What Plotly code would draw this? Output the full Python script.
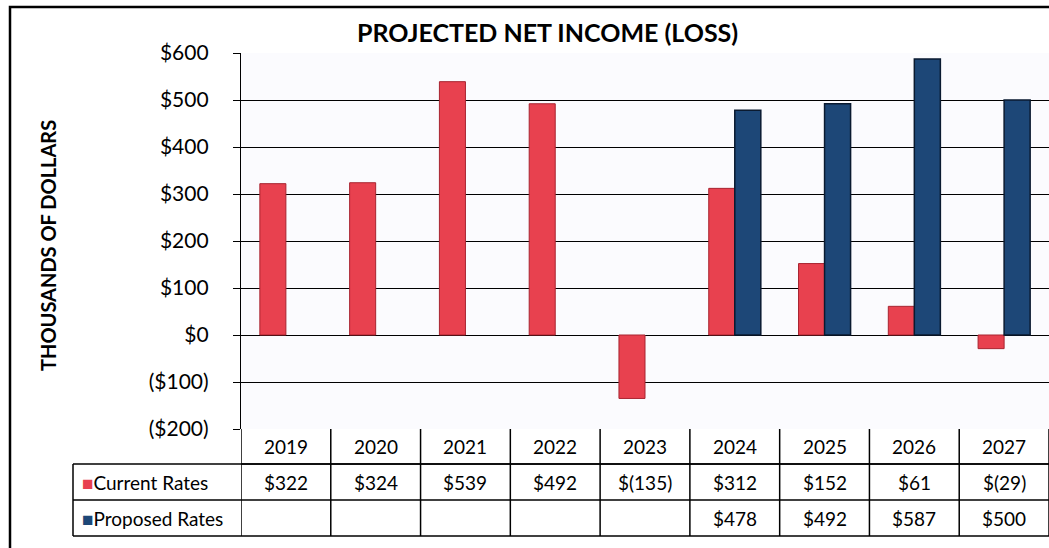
import plotly.graph_objects as go

years = ["2019", "2020", "2021", "2022", "2023", "2024", "2025", "2026", "2027"]
current_rates = [322, 324, 539, 492, -135, 312, 152, 61, -29]
proposed_rates = [None, None, None, None, None, 478, 492, 587, 500]
tick_vals = [600, 500, 400, 300, 200, 100, 0, -100, -200]
tick_text = ["$600", "$500", "$400", "$300", "$200", "$100", "$0", "($100)", "($200)"]

RED = "#e8414f"
BLUE = "#1d4777"
FONT = "Lato"


def fmt(v):
    if v is None:
        return ""
    return f"${v}" if v >= 0 else f"$({-v})"


fig = go.Figure()
fig.add_trace(go.Bar(x=years, y=current_rates, name="Current Rates",
                     marker=dict(color=RED, line=dict(color="#a82430", width=1))))
fig.add_trace(go.Bar(x=years, y=proposed_rates, name="Proposed Rates",
                     marker=dict(color=BLUE, line=dict(color="#0a1a30", width=1.5))))

W, H = 1049, 548
L, R, T, B = 241, 0, 53, 119
ph = H - T - B
pw = W - L - R


def py(px):
    return (H - B - px) / ph


def pxx(px):
    return (px - L) / pw


shapes = []
annotations = []
r1, r2, r3, r4 = 429, 464, 500, 536
LW = 1.5
shapes.append(dict(type="line", xref="paper", yref="paper", x0=0, x1=1, y0=py(r2), y1=py(r2),
                   line=dict(color="black", width=LW)))
for yy in (r2, r3, r4):
    shapes.append(dict(type="line", xref="paper", yref="paper", x0=pxx(73), x1=1, y0=py(yy), y1=py(yy),
                       line=dict(color="black", width=LW)))
for i in range(len(years) + 1):
    xv = i - 0.5
    shapes.append(dict(type="line", xref="x", yref="paper", x0=xv, x1=xv, y0=py(r1), y1=py(r4),
                       line=dict(color="black", width=LW)))
shapes.append(dict(type="line", xref="paper", yref="paper", x0=pxx(73), x1=pxx(73), y0=py(r2), y1=py(r4),
                   line=dict(color="black", width=LW)))
shapes.append(dict(type="rect", xref="paper", yref="paper", x0=pxx(10), x1=pxx(1070), y0=py(7), y1=py(570),
                   line=dict(color="black", width=2.5)))

tfont = dict(family=FONT, size=19, color="black")
for i, yv in enumerate(years):
    for yc, txt in (((r1 + r2) / 2, yv), ((r2 + r3) / 2, fmt(current_rates[i])),
                    ((r3 + r4) / 2, fmt(proposed_rates[i]))):
        annotations.append(dict(x=i, y=py(yc), xref="x", yref="paper", text=txt, xanchor="center",
                                yanchor="middle", showarrow=False, font=tfont))

annotations.append(dict(x=pxx(80), y=py((r2 + r3) / 2), xref="paper", yref="paper", xanchor="left",
                        yanchor="middle",
                        text=f"<span style='color:{RED}'>■</span>Current Rates", showarrow=False, font=tfont))
annotations.append(dict(x=pxx(80), y=py((r3 + r4) / 2), xref="paper", yref="paper", xanchor="left",
                        yanchor="middle",
                        text=f"<span style='color:{BLUE}'>■</span>Proposed Rates", showarrow=False, font=tfont))
annotations.append(dict(x=pxx(48), y=py(246), xref="paper", yref="paper", text="<b>THOUSANDS OF DOLLARS</b>",
                        xanchor="center", yanchor="middle",
                        textangle=-90, showarrow=False, font=dict(family=FONT, size=20, color="black")))

fig.update_layout(
    width=W, height=H,
    margin=dict(l=L, r=R, t=T, b=B),
    paper_bgcolor="white",
    plot_bgcolor="#fbfbfe",
    barmode="group",
    bargap=0.42,
    bargroupgap=0,
    showlegend=False,
    title=dict(text="<b>PROJECTED NET INCOME (LOSS)</b>", x=0.522, xanchor="center", xref="container",
               y=1 - 33 / H, yanchor="middle", yref="container",
               font=dict(family=FONT, size=25, color="black")),
    xaxis=dict(type="category", showticklabels=False, showgrid=False, zeroline=False, showline=False,
               ticks="", range=[-0.5, len(years) - 0.5]),
    yaxis=dict(range=[-200, 600], tickvals=tick_vals, ticktext=tick_text, showgrid=True,
               gridcolor="black", gridwidth=1.2, zeroline=True, zerolinecolor="black", zerolinewidth=1.2,
               showline=True, linecolor="black", linewidth=1.3, ticks="outside", ticklen=7,
               ticklabelstandoff=20,
               tickcolor="black", tickfont=dict(family=FONT, size=21, color="black")),
    shapes=shapes,
    annotations=annotations,
)

fig.write_html("out.html")
